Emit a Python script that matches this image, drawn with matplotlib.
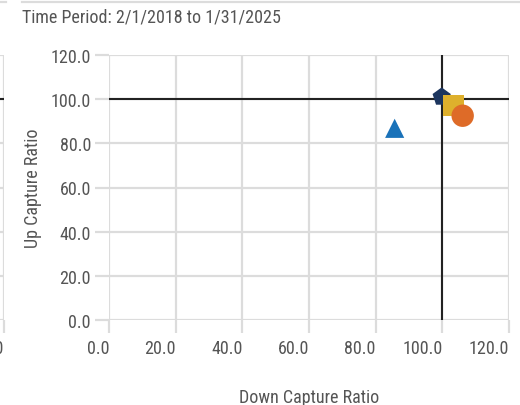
import matplotlib
matplotlib.use("Agg")
import matplotlib.pyplot as plt
from matplotlib import font_manager
from matplotlib.lines import Line2D

# ---- data ----
series_names = ["Fund", "Category", "Index", "Benchmark"]
down_capture = [85.7, 103.4, 106.1, 99.8]
up_capture = [86.8, 97.0, 92.5, 101.0]
colors = ["#1a72b9", "#deb02c", "#de6b28", "#1c355e"]
markers = ["^", "s", "o", "p"]
sizes = [190, 230, 260, 190]
ticks = [0, 20, 40, 60, 80, 100, 120]
tick_labels = ["0.0", "20.0", "40.0", "60.0", "80.0", "100.0", "120.0"]
title = "Time Period: 2/1/2018 to 1/31/2025"
xlabel = "Down Capture Ratio"
ylabel = "Up Capture Ratio"

fam = "DejaVu Sans"
for cand in ["Liberation Sans Narrow", "Roboto Condensed", "Open Sans Condensed", "Liberation Sans"]:
    try:
        font_manager.findfont(cand, fallback_to_default=False)
        fam = cand
        break
    except Exception:
        pass
plt.rcParams["font.family"] = [fam, "DejaVu Sans"]

W, H = 520, 406
fig = plt.figure(figsize=(W / 100, H / 100), dpi=100)

grid_c = "#dcdcdc"
txt_c = "#555555"


def px_x(x):
    return x / W


def px_y(y):
    return 1 - y / H


def setup(ax, show_points):
    ax.set_xlim(0, 120)
    ax.set_ylim(0, 120)
    for s in ax.spines.values():
        s.set_visible(False)
    ax.set_xticks(ticks)
    ax.set_xticklabels(tick_labels)
    ax.set_yticks(ticks)
    ax.set_yticklabels(tick_labels)
    ax.grid(True, color=grid_c, linewidth=1.6, zorder=0)
    ax.set_axisbelow(True)
    ax.tick_params(axis="both", direction="out", color=grid_c, width=1.6,
                   labelcolor=txt_c, labelsize=13)
    ax.tick_params(axis="y", length=10, pad=3)
    ax.tick_params(axis="x", length=9, pad=5)
    for lbl in ax.get_xticklabels():
        lbl.set_ha("right")
    ax.axhline(100, color="#222222", linewidth=1.5, zorder=2)
    ax.axvline(100, color="#222222", linewidth=1.5, zorder=2)
    if show_points:
        for i in range(len(series_names)):
            ax.scatter(down_capture[i], up_capture[i], marker=markers[i], s=sizes[i],
                       color=colors[i], edgecolors="none", zorder=3 + (0 if i == 3 else 1),
                       label=series_names[i])


# main panel
ax = fig.add_axes([px_x(109), px_y(321), px_x(400), (321 - 56) / H])
setup(ax, True)
ax.set_xlabel(xlabel, color=txt_c, fontsize=13, labelpad=22)
ax.set_ylabel(ylabel, color=txt_c, fontsize=13, labelpad=6)

# partial neighbouring panel at the left edge
ax2 = fig.add_axes([px_x(4 - 400), px_y(321), px_x(400), (321 - 56) / H])
setup(ax2, False)

# header lines and title
fig.add_artist(Line2D([px_x(22), 1.0], [px_y(2.5), px_y(2.5)], color=grid_c, linewidth=1.6))
fig.add_artist(Line2D([0.0, px_x(6)], [px_y(2.5), px_y(2.5)], color=grid_c, linewidth=1.6))
fig.text(px_x(22), px_y(17), title, color=txt_c, fontsize=13, ha="left", va="center")

fig.savefig("out.png", dpi=100)
